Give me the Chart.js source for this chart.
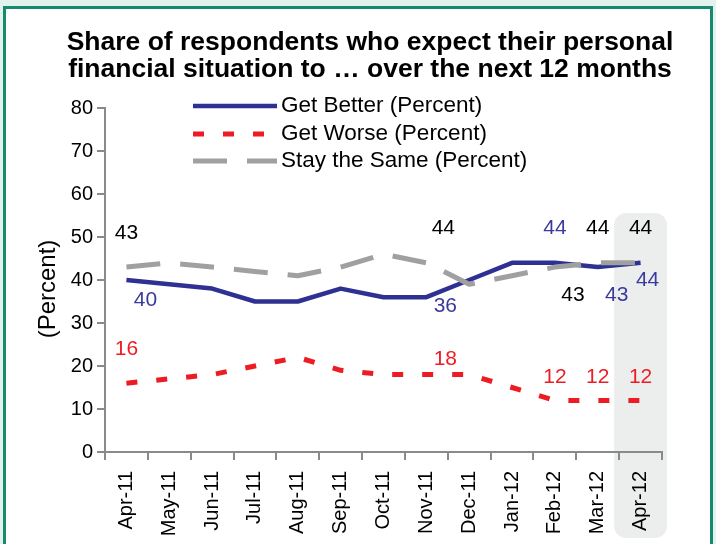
<!DOCTYPE html>
<html>
<head>
<meta charset="utf-8">
<title>Personal financial situation</title>
<script src="https://cdn.jsdelivr.net/npm/chart.js@4.4.1/dist/chart.umd.min.js"></script>
<style>
    html, body { margin: 0; padding: 0; width: 716px; height: 544px; overflow: hidden; background: #e4f2ee; }
    #frame { position: absolute; left: 3px; top: 6px; width: 704px; height: 560px; border: 3px solid #16896f; background: #fff; }
    #wrap { position: absolute; left: 0; top: 0; width: 716px; height: 544px; }
</style>
</head>
<body>
<div id="frame"></div>
<div id="wrap"><canvas id="myChart" width="716" height="544"></canvas></div>
<script>
// chart data
const categories = ['Apr-11', 'May-11', 'Jun-11', 'Jul-11', 'Aug-11', 'Sep-11', 'Oct-11',
                    'Nov-11', 'Dec-11', 'Jan-12', 'Feb-12', 'Mar-12', 'Apr-12'];
const getBetter = [40, 39, 38, 35, 35, 38, 36, 36, 40, 44, 44, 43, 44];
const getWorse  = [16, 17, 18, 20, 22, 19, 18, 18, 18, 15, 12, 12, 12];
const staySame  = [43, 44, 43, 42, 41, 43, 46, 44, 39, 41, 43, 44, 44];
const seriesNames = ['Get Better (Percent)', 'Get Worse (Percent)', 'Stay the Same (Percent)'];
const titleLines = ['Share of respondents who expect their personal',
                    'financial situation to \u2026 over the next 12 months'];
const yTicks = [0, 10, 20, 30, 40, 50, 60, 70, 80];

// which points get a value label: [dataset, month index, dx, dy]
const pointLabels = [
    [2, 0, 0, -34], [0, 0, 19, 20], [1, 0, 0, -34],
    [2, 7, 17, -35], [0, 7, 19, 9], [1, 7, 19, -15],
    [0, 10, 0, -35], [2, 10, 18, 28], [1, 10, 0, -23],
    [2, 11, 0, -35], [0, 11, 19, 28], [1, 11, 0, -23],
    [2, 12, 0, -35], [0, 12, 7, 17], [1, 12, 0, -23]
];

const FONT = '"Liberation Sans", Arial, sans-serif';
const labelColors = ['#3a3a9c', '#ed1c24', '#000000'];

const decor = {
    id: 'decor',
    beforeDraw(chart) {
        // shaded column behind the latest month
        const { ctx, chartArea, scales } = chart;
        const x = scales.x;
        const last = categories.length - 1;
        const half = (x.getPixelForValue(1) - x.getPixelForValue(0)) / 2;
        const cx = x.getPixelForValue(last);
        const left = cx - half - 5, right = cx + half + 5;
        const top = chartArea.top + 105, bottom = chartArea.bottom + 86;
        ctx.save();
        ctx.fillStyle = '#eceeee';
        ctx.beginPath();
        ctx.roundRect(left, top, right - left, bottom - top, 12);
        ctx.fill();
        ctx.restore();
    },
    afterDraw(chart) {
        const { ctx, scales } = chart;
        ctx.save();

        // title
        ctx.fillStyle = '#000';
        ctx.textAlign = 'center';
        ctx.textBaseline = 'middle';
        ctx.font = 'bold 26.5px ' + FONT;
        ctx.fillText(titleLines[0], 370, 43);
        ctx.fillText(titleLines[1], 370, 70);

        // y axis title
        ctx.save();
        ctx.translate(48, 289);
        ctx.rotate(-Math.PI / 2);
        ctx.font = '24px ' + FONT;
        ctx.fillText('(Percent)', 0, 0);
        ctx.restore();

        // legend
        const rows = [106, 134, 161];
        chart.data.datasets.forEach(function(ds, i) {
            ctx.save();
            ctx.strokeStyle = ds.borderColor;
            ctx.lineWidth = ds.borderWidth;
            ctx.setLineDash(ds.borderDash || []);
            ctx.beginPath();
            ctx.moveTo(193, rows[i]);
            ctx.lineTo(277, rows[i]);
            ctx.stroke();
            ctx.restore();
            ctx.fillStyle = '#000';
            ctx.textAlign = 'left';
            ctx.font = '22.5px ' + FONT;
            ctx.fillText(ds.label, 281, rows[i]);
        });

        // value labels
        ctx.font = '21px ' + FONT;
        ctx.textAlign = 'center';
        pointLabels.forEach(function(p) {
            const ds = chart.data.datasets[p[0]];
            const v = ds.data[p[1]];
            const px = scales.x.getPixelForValue(p[1]);
            const py = scales.y.getPixelForValue(v);
            ctx.fillStyle = labelColors[p[0]];
            ctx.fillText(String(v), px + p[2], py + p[3]);
        });
        ctx.restore();
    }
};

const data = {
    labels: categories,
    datasets: [
        {
            label: seriesNames[0],
            data: getBetter,
            borderColor: '#2e3192',
            borderWidth: 4.5,
            order: 2
        },
        {
            label: seriesNames[1],
            data: getWorse,
            borderColor: '#ed1c24',
            borderWidth: 5,
            borderDash: [11, 19],
            order: 1
        },
        {
            label: seriesNames[2],
            data: staySame,
            borderColor: '#a0a0a0',
            borderWidth: 5,
            borderDash: [34, 20],
            order: 0
        }
    ]
};

const config = {
    type: 'line',
    data: data,
    options: {
        responsive: false,
        animation: false,
        layout: { padding: { top: 108, right: 54, left: 0, bottom: 0 } },
        elements: {
            point: { radius: 0 },
            line: { tension: 0, borderCapStyle: 'butt', borderJoinStyle: 'round' }
        },
        plugins: {
            legend: { display: false },
            tooltip: { enabled: false }
        },
        scales: {
            x: {
                offset: true,
                afterFit: function(s) { s.height = 92; },
                grid: { offset: true, drawOnChartArea: false, color: '#8a8a8a', lineWidth: 2, tickLength: 8 },
                border: { color: '#8a8a8a', width: 2 },
                ticks: {
                    color: '#000', font: { family: FONT, size: 20 },
                    minRotation: 90, maxRotation: 90, padding: 11, autoSkip: false
                }
            },
            y: {
                min: 0,
                max: 80,
                afterFit: function(s) { s.width = 105; },
                afterBuildTicks: function(s) { s.ticks = yTicks.map(function(v) { return { value: v }; }); },
                grid: { drawOnChartArea: false, color: '#8a8a8a', lineWidth: 2, tickLength: 8 },
                border: { color: '#8a8a8a', width: 2 },
                ticks: { color: '#000', font: { family: FONT, size: 20 }, padding: 4 }
            }
        }
    },
    plugins: [decor]
};

const myChart = new Chart(document.getElementById('myChart'), config);
</script>
</body>
</html>
